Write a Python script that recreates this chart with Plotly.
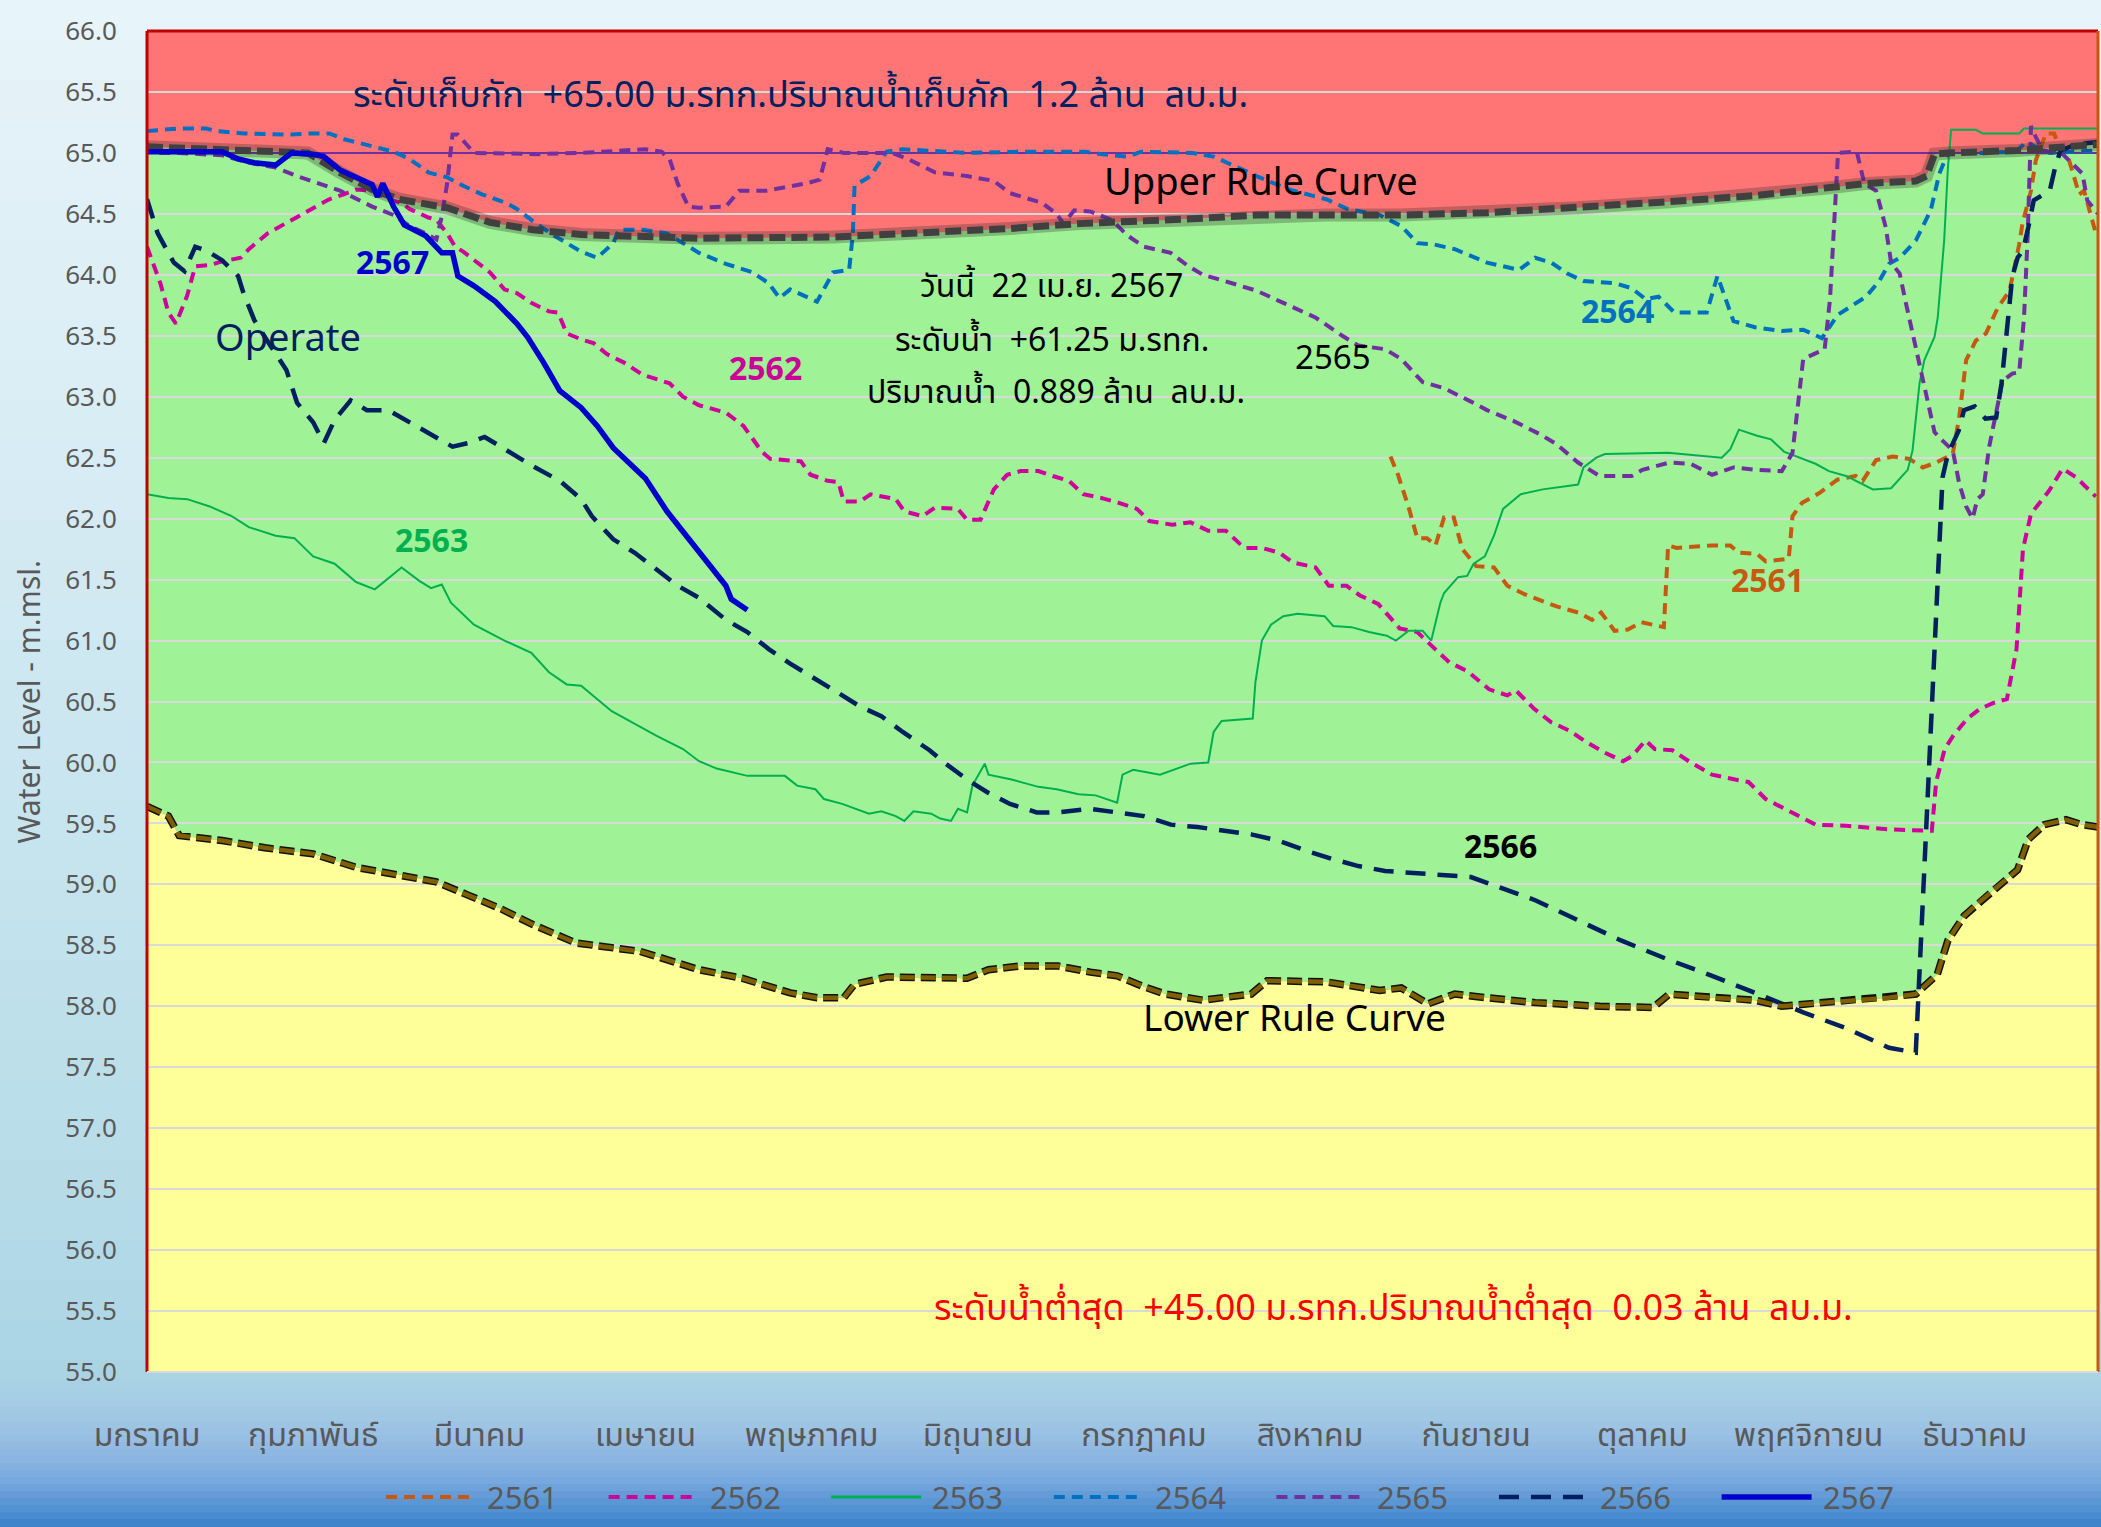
import plotly.graph_objects as go

# ---------------------------------------------------------------- data
MONTHS = ["มกราคม", "กุมภาพันธ์", "มีนาคม", "เมษายน", "พฤษภาคม", "มิถุนายน",
          "กรกฎาคม", "สิงหาคม", "กันยายน", "ตุลาคม", "พฤศจิกายน", "ธันวาคม"]
MONTH_TICK_DAYS = [1, 32, 63, 94, 125, 156, 187, 218, 249, 280, 311, 342]
Y_TICKS = [55.0, 55.5, 56.0, 56.5, 57.0, 57.5, 58.0, 58.5, 59.0, 59.5, 60.0, 60.5,
           61.0, 61.5, 62.0, 62.5, 63.0, 63.5, 64.0, 64.5, 65.0, 65.5, 66.0]
STORAGE_LEVEL = 65.0

URC_DAYS = [1, 15, 31, 37, 43, 48, 57, 65, 73, 82, 90, 104, 129, 146, 162, 175, 187, 196, 208,
            221, 235, 251, 268, 285, 301, 314, 322, 331, 333, 334.5, 337, 350, 365]
URC_LEVEL = [65.05, 65.03, 65.0, 64.84, 64.70, 64.62, 64.55, 64.43, 64.37, 64.33, 64.32, 64.30,
             64.31, 64.34, 64.38, 64.42, 64.44, 64.46, 64.49, 64.49, 64.49, 64.51, 64.55, 64.60,
             64.65, 64.71, 64.75, 64.77, 64.81, 64.99, 65.0, 65.02, 65.07]

LRC_DAYS = [1, 5, 7, 15, 23, 32, 40, 48, 55, 61, 67, 73, 81, 93, 104, 112, 121, 126, 131, 133,
            139, 154, 158, 164, 171, 177, 182, 187, 191, 198, 204, 207, 210, 221, 231, 235, 240,
            245, 251, 260, 272, 282, 285, 293, 301, 306, 314, 326, 331, 335, 337, 340, 343, 350,
            352, 355, 359, 362, 365]
LRC_LEVEL = [59.64, 59.56, 59.40, 59.36, 59.30, 59.25, 59.14, 59.08, 59.02, 58.91, 58.80, 58.67,
             58.52, 58.45, 58.30, 58.23, 58.11, 58.07, 58.07, 58.18, 58.24, 58.23, 58.30, 58.33,
             58.33, 58.28, 58.25, 58.16, 58.10, 58.05, 58.08, 58.10, 58.21, 58.20, 58.13, 58.15,
             58.02, 58.10, 58.07, 58.03, 58.00, 57.99, 58.10, 58.07, 58.05, 58.00, 58.03, 58.07,
             58.10, 58.26, 58.54, 58.74, 58.86, 59.12, 59.37, 59.49, 59.53, 59.49, 59.47]

Y2561_DAYS = [233, 234.4, 236.4, 238, 239.8, 241.4, 243, 244.8, 246.4, 249, 252.3, 254.8, 258,
              260.6, 264, 268, 270.6, 272.3, 274.8, 277.3, 279.8, 284, 284.8, 286.4, 293, 296.4,
              298, 301.4, 303, 307.3, 308, 309.8, 313, 316.4, 319.8, 321.1, 323.6, 326.7, 329.8,
              332.3, 334.8, 337.9, 339.1, 340.4, 342.2, 344.1, 346.3, 348.5, 349.4, 350.3, 350.9,
              352.5, 353.4, 355.3, 356.8, 357.8, 359.6, 360.9, 361.5, 362.4, 363.4, 364.6]
Y2561 = [62.51, 62.36, 62.09, 61.84, 61.84, 61.78, 62.01, 62.01, 61.75, 61.61, 61.60, 61.45,
         61.38, 61.34, 61.28, 61.23, 61.17, 61.23, 61.08, 61.09, 61.15, 61.11, 61.78, 61.76,
         61.78, 61.78, 61.72, 61.71, 61.65, 61.67, 62.02, 62.13, 62.21, 62.32, 62.35, 62.31,
         62.48, 62.51, 62.49, 62.42, 62.46, 62.53, 62.83, 63.30, 63.46, 63.52, 63.73, 63.87,
         64.06, 64.25, 64.42, 64.69, 64.94, 65.16, 65.16, 65.05, 64.94, 64.75, 64.66, 64.69,
         64.53, 64.34]

Y2562_DAYS = [1, 3.5, 5, 6.4, 8.5, 10, 12.7, 15, 18.5, 20, 23.5, 27.7, 32, 35, 37.7, 40, 43, 46,
              48.5, 50, 53.5, 55, 57, 58.5, 60, 62.7, 65, 67.7, 70, 72.7, 76, 77.7, 79.3, 82,
              84.3, 86.8, 90, 93.5, 98.5, 101, 104, 109, 112.3, 115.7, 117.3, 123, 124.8, 128,
              130, 131, 134, 136, 140.7, 142.3, 145.7, 148, 152.3, 154, 156.5, 159, 161.5, 164,
              167.3, 170, 173, 175.7, 179, 182.3, 185.7, 188, 192.3, 195.7, 199, 202.3, 205.7,
              209, 212.3, 214.8, 219, 221.5, 224.8, 227.3, 230.7, 234.7, 238, 240.6, 244, 247.3,
              251.4, 254.8, 256.4, 259.8, 263, 266.4, 269.8, 273, 276.4, 278, 280.6, 282.3, 285.6,
              289, 293, 297.3, 299.8, 303, 306.4, 309.8, 312.3, 318, 326.4, 334, 334.8, 336.4,
              338, 340.6, 343, 345.6, 348, 349.8, 351, 352.5, 354, 355.9, 358.4, 360.9, 364.6]
Y2562 = [64.23, 63.93, 63.69, 63.60, 63.83, 64.07, 64.08, 64.11, 64.14, 64.21, 64.34, 64.44,
         64.54, 64.62, 64.66, 64.70, 64.69, 64.62, 64.59, 64.54, 64.47, 64.45, 64.34, 64.23,
         64.19, 64.10, 64.02, 63.88, 63.85, 63.77, 63.70, 63.69, 63.52, 63.47, 63.44, 63.35,
         63.28, 63.18, 63.11, 63.00, 62.93, 62.87, 62.76, 62.55, 62.49, 62.47, 62.36, 62.31,
         62.30, 62.14, 62.14, 62.20, 62.16, 62.06, 62.02, 62.09, 62.08, 61.99, 61.99, 62.24,
         62.36, 62.39, 62.39, 62.35, 62.31, 62.20, 62.17, 62.13, 62.08, 61.98, 61.95, 61.97,
         61.90, 61.90, 61.76, 61.76, 61.72, 61.64, 61.60, 61.45, 61.45, 61.37, 61.30, 61.10,
         61.07, 60.96, 60.82, 60.75, 60.60, 60.55, 60.59, 60.44, 60.33, 60.26, 60.16, 60.08,
         60.01, 60.05, 60.18, 60.11, 60.10, 60.00, 59.90, 59.86, 59.84, 59.70, 59.62, 59.54,
         59.49, 59.48, 59.45, 59.44, 59.84, 60.11, 60.22, 60.36, 60.44, 60.49, 60.52, 60.93,
         61.75, 62.04, 62.12, 62.23, 62.41, 62.34, 62.18]

Y2563_DAYS = [1, 5, 8.5, 12.7, 16.8, 20, 25, 28.5, 32, 36, 40, 43.5, 48.5, 51.8, 54, 56, 57.7, 62,
              67.7, 72.7, 76, 79.3, 82, 87.7, 92.7, 96, 101, 104, 107.3, 113, 120, 122.3, 125.7,
              127.3, 130.7, 135.7, 138, 140.7, 142.3, 144, 147.3, 149, 151, 152.3, 154, 155,
              157.3, 158, 162.3, 167.3, 170.7, 174.8, 178, 182, 183, 185, 190, 193, 195.7, 199,
              200, 201.5, 207.3, 207.8, 209, 210.7, 213, 215.7, 220.7, 222.3, 225.7, 229, 232.3,
              234, 236.4, 239, 240.6, 242.3, 243, 245.6, 247.3, 248.5, 250.6, 252.3, 254, 257.3,
              261.4, 266.4, 268, 269, 271.4, 273, 284.8, 294.8, 296.4, 298, 301.4, 304, 306.4,
              312.3, 314.8, 318, 323, 326.4, 328, 329.5, 330.4, 331.7, 332.6, 334.5, 335.1,
              336.3, 337, 337.6, 342.2, 343.5, 350.3, 351.2, 365]
Y2563 = [62.20, 62.17, 62.16, 62.10, 62.02, 61.93, 61.86, 61.84, 61.69, 61.63, 61.48, 61.42,
         61.60, 61.49, 61.43, 61.46, 61.31, 61.13, 61.00, 60.90, 60.74, 60.64, 60.63, 60.42,
         60.30, 60.22, 60.11, 60.01, 59.95, 59.89, 59.89, 59.81, 59.78, 59.70, 59.66, 59.58,
         59.60, 59.56, 59.52, 59.60, 59.58, 59.54, 59.52, 59.62, 59.59, 59.81, 59.99, 59.90,
         59.86, 59.80, 59.78, 59.74, 59.73, 59.67, 59.90, 59.94, 59.90, 59.95, 59.99, 60.00,
         60.25, 60.34, 60.36, 60.66, 61.00, 61.13, 61.20, 61.22, 61.20, 61.12, 61.11, 61.07,
         61.04, 61.00, 61.08, 61.08, 61.00, 61.31, 61.39, 61.52, 61.53, 61.63, 61.69, 61.86,
         62.08, 62.20, 62.24, 62.27, 62.28, 62.42, 62.50, 62.53, 62.54, 62.50, 62.57, 62.73,
         62.68, 62.65, 62.55, 62.45, 62.39, 62.35, 62.24, 62.25, 62.33, 62.40, 62.56, 63.11,
         63.30, 63.49, 63.65, 64.28, 64.88, 65.19, 65.19, 65.16, 65.16, 65.20, 65.20]

Y2564_DAYS = [1, 7, 12, 14, 19, 27, 32, 35, 38, 43.5, 47, 50, 53.5, 57, 60, 63.5, 68, 70, 73, 77,
              82, 85, 88, 89, 93.5, 98, 101, 104, 109, 114, 117, 119, 121, 126, 129, 132, 132.7,
              133, 136, 139, 142, 154, 164, 176, 179, 184, 186.5, 196, 200, 204, 208, 214, 221,
              225, 231, 235, 238, 241, 245, 251, 254, 257, 260, 263, 266, 269, 275, 278, 280.6,
              283, 286, 292, 294, 297, 301, 306, 310, 313.5, 316.4, 321.7, 324.2, 326, 328, 331,
              333.8, 335.4, 337, 343.5, 349.7, 351.6, 353.4, 356, 365]
Y2564 = [65.18, 65.20, 65.20, 65.18, 65.16, 65.15, 65.16, 65.16, 65.11, 65.05, 65.01, 64.95,
         64.84, 64.80, 64.73, 64.66, 64.59, 64.54, 64.44, 64.32, 64.19, 64.14, 64.26, 64.37,
         64.37, 64.34, 64.26, 64.18, 64.09, 64.02, 63.93, 63.81, 63.88, 63.78, 64.02, 64.04,
         64.34, 64.73, 64.81, 65.01, 65.03, 65.00, 65.01, 65.01, 64.99, 64.97, 65.01, 65.00,
         64.97, 64.89, 64.81, 64.70, 64.62, 64.54, 64.49, 64.40, 64.26, 64.25, 64.21, 64.10,
         64.07, 64.04, 64.14, 64.10, 64.01, 63.95, 63.93, 63.89, 63.80, 63.82, 63.69, 63.69,
         63.99, 63.62, 63.57, 63.54, 63.55, 63.48, 63.67, 63.82, 63.95, 64.09, 64.14, 64.28,
         64.53, 64.83, 65.00, 65.00, 65.01, 65.09, 65.05, 65.00, 65.02]

Y2565_DAYS = [1, 2, 7, 15, 20, 25, 29, 34, 37, 43, 47, 50, 53, 55, 56, 57, 58, 59, 62, 74, 82,
              94, 97, 98.5, 100, 102, 104, 109, 111.5, 116.5, 124, 126.5, 128, 131, 140, 143,
              148, 154, 159, 162, 168, 170.7, 172, 174, 177, 181, 184, 187, 192, 195, 198, 202,
              208, 213, 219, 224, 227, 232, 235, 239, 243, 248, 251, 256, 261, 264, 268, 272,
              278, 280, 285, 289, 293, 297, 301, 306, 308, 310, 314, 315, 316, 316.5, 320,
              321.4, 323.6, 325.4, 326.4, 328, 329.2, 330.4, 331.7, 332.9, 334.5, 336, 337.9,
              339.1, 340.4, 341.6, 342.5, 343.5, 344.7, 347.2, 349, 350.3, 351.2, 351.9, 352.5,
              353.4, 354.7, 358.4, 360.3, 362.1, 363, 365]
Y2565 = [65.08, 65.00, 65.00, 64.98, 64.92, 64.88, 64.81, 64.74, 64.69, 64.56, 64.49, 64.40,
         64.34, 64.29, 64.48, 64.75, 65.15, 65.15, 65.00, 64.99, 65.00, 65.03, 65.01, 64.95,
         64.75, 64.56, 64.55, 64.56, 64.69, 64.69, 64.75, 64.78, 65.03, 65.00, 65.00, 64.95,
         64.84, 64.81, 64.77, 64.67, 64.59, 64.50, 64.42, 64.53, 64.52, 64.45, 64.32, 64.23,
         64.18, 64.08, 64.00, 63.95, 63.87, 63.77, 63.65, 63.50, 63.42, 63.39, 63.31, 63.12,
         63.07, 62.96, 62.89, 62.80, 62.69, 62.61, 62.46, 62.35, 62.35, 62.40, 62.46, 62.45,
         62.36, 62.42, 62.40, 62.39, 62.54, 63.31, 63.39, 63.80, 64.62, 65.00, 65.01, 64.75,
         64.69, 64.39, 64.10, 64.01, 63.76, 63.52, 63.27, 63.02, 62.71, 62.64, 62.56, 62.29,
         62.10, 62.00, 62.16, 62.20, 62.59, 63.13, 63.19, 63.20, 63.65, 64.34, 65.22, 65.13,
         65.02, 64.99, 64.91, 64.83, 64.61, 64.50]

Y2566_DAYS = [1, 3, 6, 8, 10, 12, 15, 18, 19, 21, 24, 27, 29, 32, 34, 36, 39, 42, 46, 50, 54, 58,
              61, 64, 67, 73, 78, 82, 84, 88, 92, 96, 100, 104, 109, 113, 117, 121, 126, 130,
              134, 138, 142, 147, 150, 154, 158, 162, 167, 171, 177, 182, 187, 192, 197, 202,
              207, 212, 217, 222, 227, 232, 235, 243, 248, 260, 268, 276, 285, 293, 301, 310,
              318, 326, 331, 336, 337, 339, 340, 342, 344, 346, 347, 348, 349, 350, 351, 352,
              353, 356, 357, 358, 361, 365]
Y2566 = [64.62, 64.34, 64.10, 64.03, 64.23, 64.20, 64.12, 63.99, 63.85, 63.63, 63.42, 63.22,
         62.95, 62.79, 62.62, 62.81, 62.97, 62.89, 62.89, 62.79, 62.70, 62.59, 62.62, 62.67,
         62.59, 62.43, 62.31, 62.16, 62.02, 61.83, 61.72, 61.58, 61.45, 61.35, 61.17, 61.07,
         60.93, 60.81, 60.68, 60.57, 60.46, 60.38, 60.25, 60.10, 59.99, 59.86, 59.75, 59.66,
         59.59, 59.59, 59.62, 59.59, 59.56, 59.49, 59.47, 59.44, 59.41, 59.36, 59.28, 59.21,
         59.15, 59.11, 59.10, 59.08, 59.06, 58.87, 58.70, 58.54, 58.38, 58.25, 58.11, 57.95,
         57.82, 57.66, 57.62, 62.34, 62.53, 62.72, 62.89, 62.92, 62.82, 62.83, 63.11, 63.52,
         63.98, 64.14, 64.20, 64.39, 64.61, 64.69, 64.88, 65.02, 65.07, 65.09]

Y2567_DAYS = [1, 15, 18, 21, 25, 28, 32, 34, 37, 43, 44, 45, 47, 49, 53, 56, 58, 59, 62, 64, 66,
              70, 72, 75, 78, 82, 85, 88, 91, 94, 98, 103, 106, 109, 110, 113]
Y2567 = [65.01, 65.01, 64.95, 64.92, 64.90, 65.00, 64.99, 64.97, 64.86, 64.74, 64.64, 64.75,
         64.56, 64.41, 64.32, 64.18, 64.18, 63.99, 63.91, 63.85, 63.78, 63.60, 63.49, 63.28,
         63.05, 62.91, 62.76, 62.58, 62.46, 62.33, 62.06, 61.79, 61.62, 61.45, 61.34, 61.25]

SERIES_NAMES = ["2561", "2562", "2563", "2564", "2565", "2566", "2567"]
SERIES_DAYS = [Y2561_DAYS, Y2562_DAYS, Y2563_DAYS, Y2564_DAYS, Y2565_DAYS, Y2566_DAYS, Y2567_DAYS]
SERIES_LEVELS = [Y2561, Y2562, Y2563, Y2564, Y2565, Y2566, Y2567]

# ---------------------------------------------------------------- styles
STYLE = {
    "2561": dict(color="#C65911", width=4, dash="11px,7px"),
    "2562": dict(color="#D0009C", width=4, dash="11px,7px"),
    "2563": dict(color="#00B050", width=2, dash="solid"),
    "2564": dict(color="#0070C0", width=4, dash="11px,7px"),
    "2565": dict(color="#7030A0", width=4, dash="11px,7px"),
    "2566": dict(color="#002060", width=4.5, dash="20px,12px"),
    "2567": dict(color="#0000CC", width=5.5, dash="solid"),
}

FIG_W, FIG_H = 2101, 1527
ML, MR, MT, MB = 147, 3, 31, 155
PW = FIG_W - ML - MR
PH = FIG_H - MT - MB
FONT = "Tahoma, 'Noto Sans Thai', 'Leelawadee UI', 'Noto Sans', 'DejaVu Sans', sans-serif"


def px_x(px):
    return (px - ML) / PW


def px_y(py):
    return (FIG_H - MB - py) / PH


fig = go.Figure()

# ---------------------------------------------------------------- background gradient
BG_STOPS = [(0, (232, 244, 249)), (400, (218, 237, 245)), (800, (200, 229, 239)),
            (1200, (182, 220, 232)), (1372, (170, 212, 228)), (1400, (166, 205, 228)),
            (1430, (156, 194, 228)), (1460, (138, 180, 225)), (1480, (120, 168, 222)),
            (1495, (100, 156, 216)), (1510, (80, 145, 210)), (1527, (55, 128, 200))]


def bg_color(y):
    for (y0, c0), (y1, c1) in zip(BG_STOPS[:-1], BG_STOPS[1:]):
        if y0 <= y <= y1:
            t = (y - y0) / (y1 - y0)
            return "rgb(%d,%d,%d)" % tuple(round(a + (b - a) * t) for a, b in zip(c0, c1))
    return "rgb(%d,%d,%d)" % BG_STOPS[-1][1]


shapes = []
edges = list(range(0, 1372, 40)) + list(range(1372, 1528, 7)) + [1528]
for a, b in zip(edges[:-1], edges[1:]):
    shapes.append(dict(type="rect", xref="paper", yref="paper", layer="below",
                       x0=px_x(-2), x1=px_x(FIG_W + 2), y0=px_y(b + 1), y1=px_y(a),
                       fillcolor=bg_color((a + b) / 2), line=dict(width=0)))
# red (above upper rule curve) zone
shapes.append(dict(type="rect", xref="paper", yref="paper", layer="below",
                   x0=0, x1=1, y0=0, y1=1, fillcolor="#FF7575", line=dict(width=0)))

# ---------------------------------------------------------------- zone fills (subplot 1)
fig.add_trace(go.Scatter(x=LRC_DAYS, y=LRC_LEVEL, mode="lines", line=dict(width=0),
                         fill="tozeroy", fillcolor="#FFFF99", hoverinfo="skip",
                         showlegend=False))
fig.add_trace(go.Scatter(x=URC_DAYS, y=URC_LEVEL, mode="lines", line=dict(width=0),
                         fill="tonexty", fillcolor="#A0F296", hoverinfo="skip",
                         showlegend=False))

# ---------------------------------------------------------------- lines (subplot 2, above grid)
fig.add_trace(go.Scatter(x=[URC_DAYS[0], URC_DAYS[-1]], y=[STORAGE_LEVEL, STORAGE_LEVEL],
                         mode="lines", line=dict(color="#7030A0", width=2),
                         xaxis="x2", yaxis="y2", showlegend=False, hoverinfo="skip"))

for name, days, levels in zip(SERIES_NAMES[:-1], SERIES_DAYS[:-1], SERIES_LEVELS[:-1]):
    fig.add_trace(go.Scatter(x=days, y=levels, mode="lines", name=name,
                             line=STYLE[name], xaxis="x2", yaxis="y2", showlegend=False))

# upper rule curve (shadow + dashed)
fig.add_trace(go.Scatter(x=URC_DAYS, y=URC_LEVEL, mode="lines",
                         line=dict(color="rgba(40,40,40,0.28)", width=13),
                         xaxis="x2", yaxis="y2", showlegend=False, hoverinfo="skip"))
fig.add_trace(go.Scatter(x=URC_DAYS, y=URC_LEVEL, mode="lines", name="Upper Rule Curve",
                         line=dict(color="#404040", width=7, dash="16px,6px"),
                         xaxis="x2", yaxis="y2", showlegend=False))
# lower rule curve (black under brown)
fig.add_trace(go.Scatter(x=LRC_DAYS, y=LRC_LEVEL, mode="lines",
                         line=dict(color="#111111", width=7.5, dash="15px,6px"),
                         xaxis="x2", yaxis="y2", showlegend=False, hoverinfo="skip"))
fig.add_trace(go.Scatter(x=LRC_DAYS, y=LRC_LEVEL, mode="lines", name="Lower Rule Curve",
                         line=dict(color="#7F6000", width=4.5, dash="15px,6px"),
                         xaxis="x2", yaxis="y2", showlegend=False))

fig.add_trace(go.Scatter(x=Y2567_DAYS, y=Y2567, mode="lines", name="2567",
                         line=STYLE["2567"], xaxis="x2", yaxis="y2", showlegend=False))

# ---------------------------------------------------------------- borders
shapes.append(dict(type="line", xref="paper", yref="paper", x0=0, x1=1, y0=1, y1=1,
                   line=dict(color="#C00000", width=3), layer="above"))
shapes.append(dict(type="line", xref="paper", yref="paper", x0=0, x1=0, y0=0, y1=1,
                   line=dict(color="#C00000", width=3), layer="above"))
shapes.append(dict(type="line", xref="paper", yref="paper", x0=1, x1=1, y0=0, y1=1,
                   line=dict(color="#C65911", width=3), layer="above"))
shapes.append(dict(type="line", xref="paper", yref="paper", x0=0, x1=1, y0=0, y1=0,
                   line=dict(color="#D9D9D9", width=2), layer="above"))

# ---------------------------------------------------------------- annotations
ann = []


def text(x, y, s, size, color, bold=False, xanchor="center"):
    ann.append(dict(x=x, y=y, xref="x", yref="y", text=("<b>%s</b>" % s) if bold else s,
                    showarrow=False, xanchor=xanchor, yanchor="middle",
                    font=dict(family=FONT, size=size, color=color)))


text(123, 65.47, "ระดับเก็บกัก  +65.00 ม.รทก.ปริมาณน้ำเก็บกัก  1.2 ล้าน  ลบ.ม.", 36, "#002060")
text(208.8, 64.75, "Upper Rule Curve", 38, "#000000")
text(215, 57.89, "Lower Rule Curve", 37, "#000000")
text(27.3, 63.47, "Operate", 38, "#002060")
text(169.8, 63.90, "วันนี้  22 เม.ย. 2567", 32, "#000000")
text(169.8, 63.46, "ระดับน้ำ  +61.25 ม.รทก.", 32, "#000000")
text(170.5, 63.03, "ปริมาณน้ำ  0.889 ล้าน  ลบ.ม.", 32, "#000000")
text(233.6, 55.52, "ระดับน้ำต่ำสุด  +45.00 ม.รทก.ปริมาณน้ำต่ำสุด  0.03 ล้าน  ลบ.ม.", 36, "#FF0000")

text(46.8, 64.09, "2567", 32, "#0000CC", bold=True)
text(116.3, 63.22, "2562", 32, "#CC0099", bold=True)
text(54, 61.81, "2563", 32, "#00B050", bold=True)
text(275.3, 63.69, "2564", 32, "#0070C0", bold=True)
text(222.3, 63.31, "2565", 33, "#000000")
text(253.5, 59.30, "2566", 32, "#000000", bold=True)
text(303.3, 61.48, "2561", 32, "#C55A11", bold=True)

# y-axis title
ann.append(dict(x=px_x(30), y=0.5, xref="paper", yref="paper", text="Water Level - m.msl.",
                textangle=-90, showarrow=False, xanchor="center", yanchor="middle",
                font=dict(family=FONT, size=30, color="#595959")))

# custom legend along the bottom
for i, name in enumerate(SERIES_NAMES):
    x0 = 386 + i * 222.6
    st = STYLE[name]
    shapes.append(dict(type="line", xref="paper", yref="paper", layer="above",
                       x0=px_x(x0), x1=px_x(x0 + 90), y0=px_y(1497), y1=px_y(1497),
                       line=dict(color=st["color"], width=max(st["width"], 3),
                                 dash=st["dash"])))
    ann.append(dict(x=px_x(x0 + 99), y=px_y(1499), xref="paper", yref="paper", text=name,
                    showarrow=False, xanchor="left", yanchor="middle",
                    font=dict(family=FONT, size=31, color="#595959")))

# ---------------------------------------------------------------- layout
fig.update_layout(
    width=FIG_W, height=FIG_H,
    margin=dict(l=ML, r=MR, t=MT, b=MB, pad=0),
    paper_bgcolor="rgb(232,244,249)",
    plot_bgcolor="rgba(0,0,0,0)",
    showlegend=False,
    shapes=shapes,
    annotations=ann,
    xaxis=dict(domain=[0, 1], range=[1, 365], tickmode="array", tickvals=MONTH_TICK_DAYS,
               ticktext=MONTHS, showgrid=False, zeroline=False, showline=False,
               ticks="outside", ticklen=35, tickcolor="rgba(0,0,0,0)",
               tickfont=dict(family=FONT, size=32, color="#595959")),
    yaxis=dict(domain=[0, 1], range=[55, 66], tickmode="array", tickvals=Y_TICKS,
               ticktext=["%.1f" % v for v in Y_TICKS], showgrid=False, zeroline=False,
               showline=False, ticks="outside", ticklen=24, tickcolor="rgba(0,0,0,0)",
               tickfont=dict(family=FONT, size=26, color="#595959")),
    xaxis2=dict(domain=[0, 1], anchor="y2", range=[1, 365], visible=False),
    yaxis2=dict(domain=[0, 1], anchor="x2", range=[55, 66], tickmode="array",
                tickvals=Y_TICKS, showgrid=True, gridcolor="#D9D9D9", gridwidth=2,
                showticklabels=False, zeroline=False, showline=False, ticks=""),
)

fig.write_html("out.html", config={"displayModeBar": False},
               post_script="document.body.style.margin='0';document.body.style.overflow='hidden';")
